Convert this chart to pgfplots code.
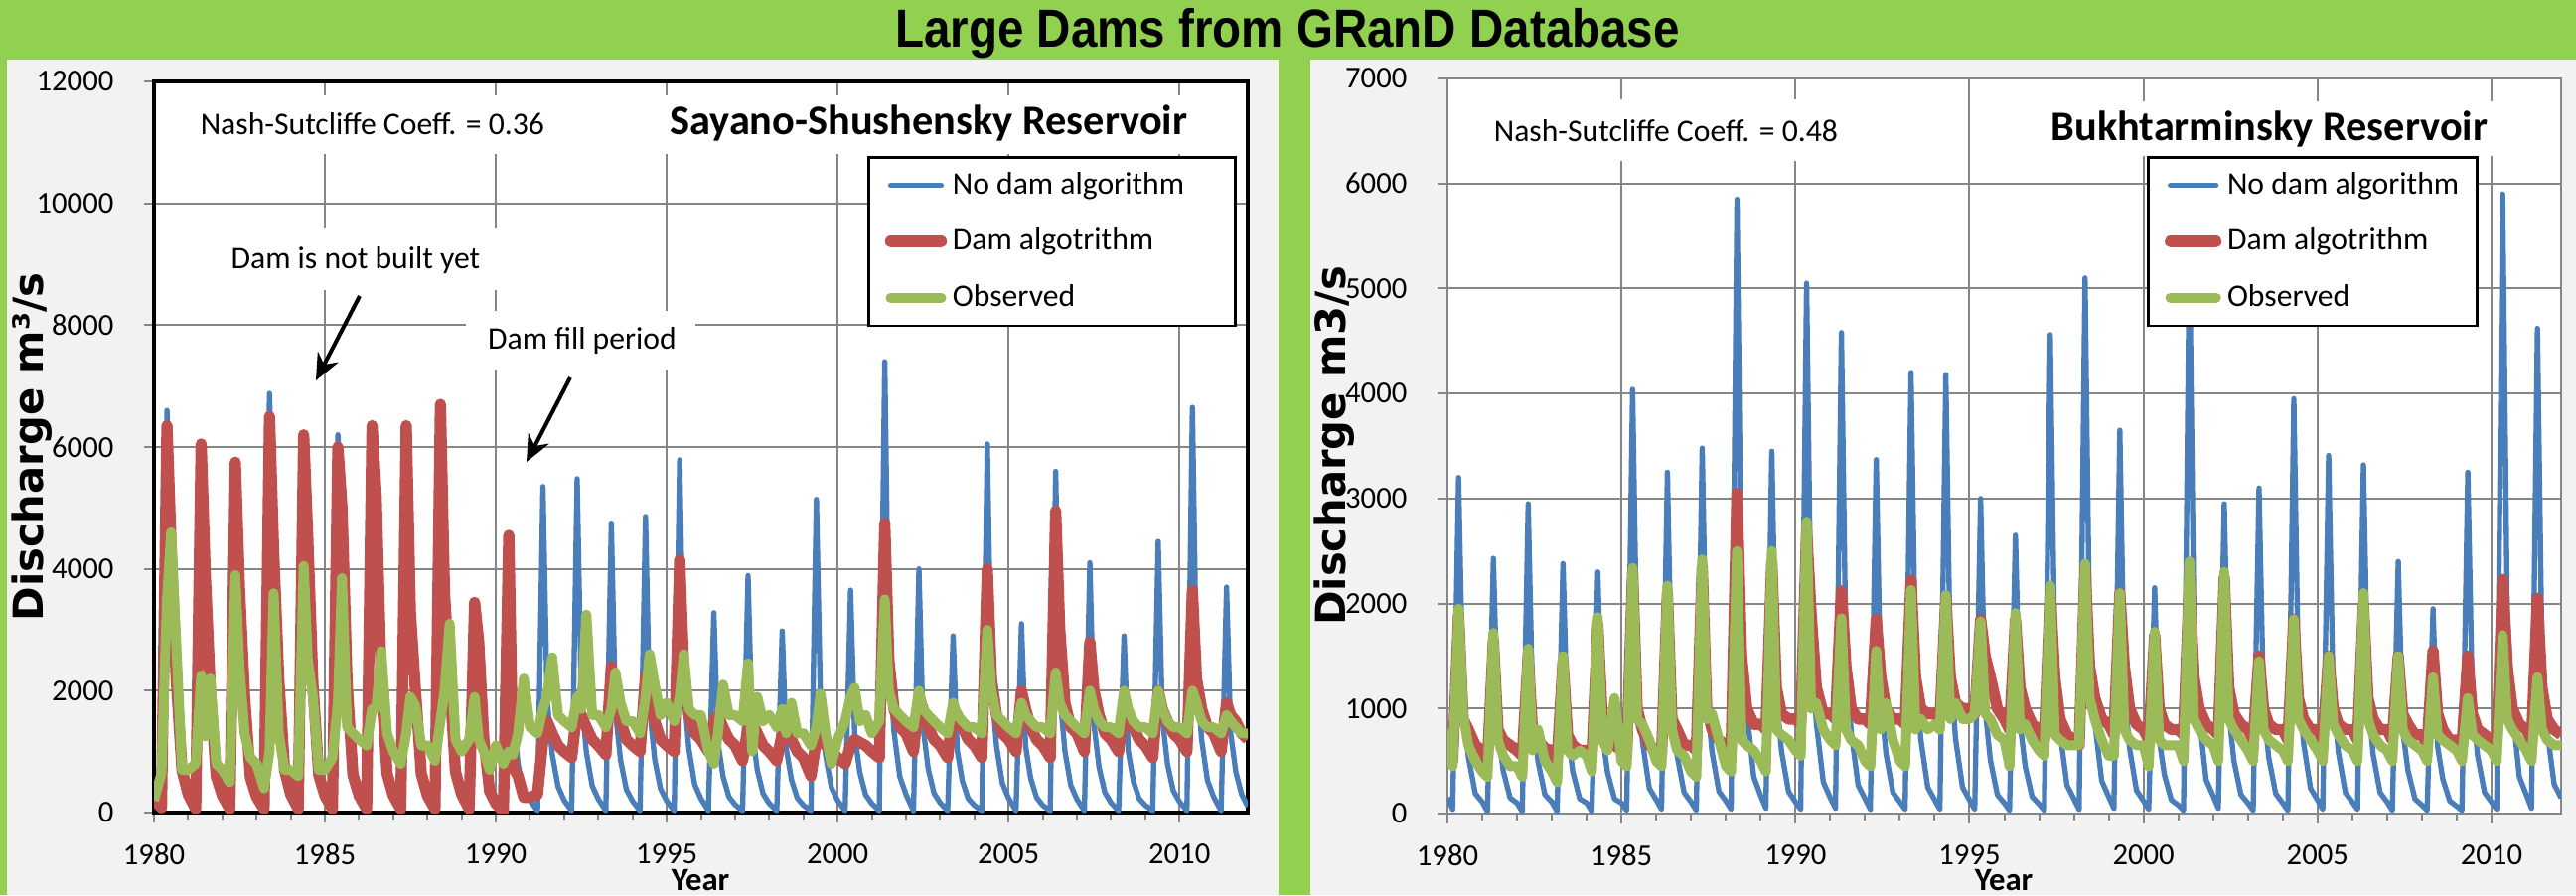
\documentclass[border=0pt]{standalone}
\usepackage{pgfplots}
\pgfplotsset{compat=1.18}
\usepackage{pgfplotstable}
\usepackage{fontspec}
\setmainfont{Carlito}
\newfontfamily\dejavu{DejaVu Sans}
\newfontfamily\titlefont[FakeStretch=0.88]{Liberation Sans}
\usetikzlibrary{arrows.meta}
\definecolor{bgg}{HTML}{92D050}
\definecolor{panel}{HTML}{F2F2F2}
\definecolor{gridc}{HTML}{868686}
\definecolor{cb}{HTML}{4A7EBB}
\definecolor{cr}{HTML}{C0504D}
\definecolor{cg}{HTML}{9BBB59}

\pgfplotstableread{
t b r g
1980.00 200 200 200
1980.22 80 80 650
1980.38 6600 6350 3500
1980.50 4400 4400 4600
1980.65 2200 2200 2800
1980.82 700 700 700
1981.00 300 300 700
1981.22 60 60 800
1981.38 6050 6050 2250
1981.50 3900 3900 1250
1981.65 2000 2000 2200
1981.82 600 600 800
1982.00 280 280 700
1982.22 60 60 500
1982.38 5750 5750 3900
1982.50 3700 3700 2400
1982.65 1900 1900 1300
1982.82 580 580 900
1983.00 260 260 800
1983.22 60 60 400
1983.38 6880 6500 1000
1983.50 4300 4300 3600
1983.65 2200 2200 1300
1983.82 700 700 700
1984.00 300 300 700
1984.22 60 60 600
1984.38 6200 6200 4050
1984.50 4500 4500 2500
1984.65 2100 2100 1900
1984.82 620 620 700
1985.00 280 280 700
1985.22 60 60 900
1985.38 6200 6000 1800
1985.50 5000 5000 3850
1985.65 2100 2100 1400
1985.82 620 620 1300
1986.00 280 280 1200
1986.22 60 60 1100
1986.38 6350 6350 1700
1986.50 5200 5200 1700
1986.65 2100 2100 2650
1986.82 640 640 1300
1987.00 280 280 1000
1987.22 60 60 800
1987.38 6350 6350 1300
1987.50 3300 3300 1900
1987.65 2000 2000 1750
1987.82 640 640 1100
1988.00 280 280 1100
1988.22 60 60 850
1988.38 6700 6700 1500
1988.50 3600 3600 2000
1988.65 2200 2200 3100
1988.82 670 670 1200
1989.00 300 300 1000
1989.22 60 60 1200
1989.38 3450 3450 1900
1989.50 2800 2800 1200
1989.65 1200 1200 1000
1989.82 350 350 700
1990.00 150 150 1100
1990.22 20 20 800
1990.38 4550 4550 1000
1990.50 1600 750 950
1990.65 800 600 1300
1990.82 300 250 2200
1991.00 200 250 1400
1991.22 30 300 1300
1991.38 5350 1200 1700
1991.50 1870 1500 1900
1991.65 960 1300 2550
1991.82 430 1100 1600
1992.00 200 1000 1500
1992.22 30 900 1400
1992.38 5480 1700 1900
1992.50 1920 1600 1700
1992.65 990 1400 3250
1992.82 440 1200 1600
1993.00 220 1100 1600
1993.22 30 950 1400
1993.38 4750 2400 1700
1993.50 1660 1900 2300
1993.65 860 1500 1800
1993.82 380 1200 1500
1994.00 190 1100 1500
1994.22 30 1000 1300
1994.38 4860 2250 1900
1994.50 1700 1900 2600
1994.65 870 1500 2100
1994.82 390 1200 1600
1995.00 190 1100 1800
1995.22 30 1000 1500
1995.38 5790 4150 1900
1995.50 2030 2300 2600
1995.65 1040 1600 1700
1995.82 460 1300 1600
1996.00 230 1200 1600
1996.22 30 1000 1000
1996.38 3280 1500 800
1996.50 1150 1600 1300
1996.65 590 1400 2100
1996.82 260 1200 1600
1997.00 130 1100 1600
1997.22 30 850 1500
1997.38 3890 1400 2450
1997.50 1360 1500 1000
1997.65 700 1300 1900
1997.82 310 1100 1500
1998.00 150 1000 1600
1998.22 30 850 1400
1998.38 2980 1300 1700
1998.50 1040 1500 1300
1998.65 540 1200 1800
1998.82 240 1000 1300
1999.00 120 900 1300
1999.22 30 600 1100
1999.38 5140 1200 1400
1999.50 1800 1300 1950
1999.65 930 1100 1300
1999.82 410 1000 800
2000.00 200 900 1200
2000.22 30 800 1500
2000.38 3650 1100 1900
2000.50 1280 1200 2050
2000.65 660 1150 1500
2000.82 290 1100 1600
2001.00 150 1000 1300
2001.22 30 900 1500
2001.38 7400 4750 3500
2001.50 2590 2500 2000
2001.65 1330 1700 1700
2001.82 590 1400 1600
2002.00 300 1300 1500
2002.22 30 1000 1400
2002.38 4000 1900 2000
2002.50 1400 1700 1700
2002.65 720 1400 1600
2002.82 320 1200 1500
2003.00 160 1100 1400
2003.22 30 900 1300
2003.38 2900 1700 1800
2003.50 1020 1600 1600
2003.65 520 1400 1500
2003.82 230 1200 1400
2004.00 120 1100 1400
2004.22 30 900 1300
2004.38 6050 4000 3000
2004.50 2120 2200 2000
2004.65 1090 1600 1600
2004.82 480 1300 1500
2005.00 240 1200 1400
2005.22 30 1000 1300
2005.38 3100 2000 1800
2005.50 1090 1700 1600
2005.65 560 1400 1500
2005.82 250 1200 1400
2006.00 120 1100 1400
2006.22 30 900 1300
2006.38 5600 4950 2300
2006.50 1960 3000 1800
2006.65 1010 1800 1600
2006.82 450 1400 1500
2007.00 220 1300 1400
2007.22 30 1000 1300
2007.38 4100 2800 2000
2007.50 1440 2000 1700
2007.65 740 1600 1500
2007.82 330 1300 1400
2008.00 160 1200 1400
2008.22 30 1000 1300
2008.38 2900 1700 2000
2008.50 1020 1600 1700
2008.65 520 1400 1500
2008.82 230 1200 1400
2009.00 120 1100 1400
2009.22 30 900 1300
2009.38 4450 2000 2000
2009.50 1560 1700 1700
2009.65 800 1500 1500
2009.82 360 1300 1400
2010.00 180 1200 1400
2010.22 30 1000 1300
2010.38 6650 3650 2000
2010.50 2330 2200 1800
2010.65 1200 1700 1500
2010.82 530 1400 1400
2011.00 260 1300 1400
2011.22 30 1000 1300
2011.38 3700 1800 1600
2011.50 1300 1600 1500
2011.65 670 1500 1400
2011.82 300 1300 1300
2012.00 100 1200 1300
}\leftdata

\pgfplotstableread{
t b r g
1980.00 150 550 800
1980.15 40 500 450
1980.32 3200 1900 1950
1980.45 1060 900 950
1980.60 540 800 650
1980.80 190 650 500
1981.00 110 600 400
1981.15 20 500 350
1981.32 2430 1650 1720
1981.45 800 800 700
1981.60 410 700 550
1981.80 150 650 450
1982.00 100 600 450
1982.15 20 550 350
1982.32 2950 1500 1570
1982.45 970 750 600
1982.60 500 700 800
1982.80 180 620 500
1983.00 110 600 400
1983.15 20 500 300
1983.32 2380 1450 1500
1983.45 790 750 600
1983.60 400 650 550
1983.80 140 600 600
1984.00 100 600 550
1984.15 20 550 400
1984.32 2300 1800 1870
1984.45 760 900 700
1984.60 390 800 600
1984.80 140 650 1100
1985.00 100 600 500
1985.15 30 550 450
1985.32 4040 2300 2340
1985.45 1330 1000 900
1985.60 690 800 850
1985.80 240 650 700
1986.00 130 600 500
1986.15 40 550 450
1986.32 3250 2100 2170
1986.45 1070 900 800
1986.60 550 800 600
1986.80 200 650 550
1987.00 110 650 400
1987.15 30 600 350
1987.32 3480 2350 2420
1987.45 1150 1000 900
1987.60 590 800 950
1987.80 210 700 700
1988.00 120 650 450
1988.15 40 600 400
1988.32 5850 3050 2500
1988.45 1930 1500 700
1988.60 990 1000 650
1988.80 350 850 600
1989.00 170 850 500
1989.15 50 800 400
1989.32 3450 2400 2500
1989.45 1140 1200 800
1989.60 590 950 750
1989.80 210 900 700
1990.00 110 900 600
1990.15 40 850 550
1990.32 5050 2700 2780
1990.45 1670 1900 1000
1990.60 860 1200 1050
1990.80 300 950 800
1991.00 150 950 700
1991.15 50 900 650
1991.32 4580 2120 1860
1991.45 1510 1400 800
1991.60 780 1000 700
1991.80 270 900 650
1992.00 140 900 500
1992.15 40 850 450
1992.32 3370 1850 1550
1992.45 1110 1300 800
1992.60 570 1000 1050
1992.80 200 900 700
1993.00 110 900 500
1993.15 40 850 450
1993.32 4200 2220 2130
1993.45 1390 1300 800
1993.60 710 1000 900
1993.80 250 950 800
1994.00 130 950 850
1994.15 40 900 800
1994.32 4180 2050 2080
1994.45 1380 1300 900
1994.60 710 1050 1050
1994.80 250 1000 900
1995.00 130 1000 900
1995.15 40 950 950
1995.32 3000 1850 1830
1995.45 990 1500 950
1995.60 510 1300 900
1995.80 180 1000 750
1996.00 100 900 700
1996.15 30 800 450
1996.32 2650 1850 1910
1996.45 870 1200 800
1996.60 450 1000 850
1996.80 160 850 700
1997.00 90 800 600
1997.15 30 700 550
1997.32 4560 2100 2170
1997.45 1500 1300 750
1997.60 780 900 700
1997.80 270 750 650
1998.00 140 700 650
1998.15 40 650 650
1998.32 5100 2350 2380
1998.45 1680 1400 1100
1998.60 870 1100 900
1998.80 310 900 700
1999.00 160 850 550
1999.15 50 750 550
1999.32 3650 2100 2100
1999.45 1200 1400 800
1999.60 620 1000 700
1999.80 220 850 650
2000.00 120 800 650
2000.15 40 700 450
2000.32 2150 1700 1730
2000.45 710 1000 700
2000.60 370 850 650
2000.80 130 800 650
2001.00 80 800 650
2001.15 30 750 500
2001.32 5400 2230 2400
2001.45 1780 1300 900
2001.60 920 1000 800
2001.80 320 850 700
2002.00 170 800 650
2002.15 50 750 500
2002.32 2950 2250 2300
2002.45 970 1200 900
2002.60 500 950 800
2002.80 180 850 700
2003.00 100 800 600
2003.15 30 700 500
2003.32 3100 1500 1450
2003.45 1020 1000 800
2003.60 530 850 700
2003.80 190 800 650
2004.00 100 800 600
2004.15 30 700 500
2004.32 3950 1850 1850
2004.45 1300 1100 900
2004.60 670 900 800
2004.80 240 800 700
2005.00 130 800 600
2005.15 40 700 500
2005.32 3410 1500 1500
2005.45 1130 1000 850
2005.60 580 850 750
2005.80 200 800 650
2006.00 110 800 600
2006.15 40 700 500
2006.32 3320 2000 2100
2006.45 1100 1100 900
2006.60 560 900 750
2006.80 200 800 650
2007.00 110 800 600
2007.15 30 700 500
2007.32 2400 1500 1500
2007.45 790 950 800
2007.60 410 850 700
2007.80 140 750 650
2008.00 80 750 600
2008.15 30 650 500
2008.32 1950 1550 1300
2008.45 640 950 750
2008.60 330 800 700
2008.80 120 700 650
2009.00 70 700 600
2009.15 30 650 500
2009.32 3250 1500 1100
2009.45 1070 950 750
2009.60 550 800 700
2009.80 200 750 650
2010.00 110 700 600
2010.15 40 650 500
2010.32 5900 2230 1700
2010.45 1950 1400 900
2010.60 1000 1000 800
2010.80 350 850 700
2011.00 180 800 600
2011.15 50 700 500
2011.32 4620 2050 1300
2011.45 1520 1200 800
2011.60 790 900 700
2011.80 280 800 650
2012.00 150 750 650
}\rightdata

\pgfplotsset{
 damaxis/.style={
  anchor=south west, scale only axis,
  xmin=1980, xmax=2012, ymin=0,
  xtick={1980,1985,...,2010}, minor x tick num=4,
  scaled ticks=false,
  tick pos=left, tick align=outside,
  major tick length=3pt, minor tick length=2pt,
  grid=major, major grid style={draw=gridc, line width=0.6pt},
  tick style={draw=gridc, line width=0.6pt},
  tick label style={font=\fontsize{9.2pt}{10pt}\selectfont},
  xticklabel style={anchor=center, inner sep=0pt, yshift=-9.6pt},
  yticklabel style={anchor=east, inner sep=0pt, xshift=-9pt},
  /pgf/number format/1000 sep={},
  /pgf/number format/assume math mode=true,
  axis background/.style={fill=white},
  legend cell align=left,
  legend style={anchor=north west, draw=black, line width=0.8pt, fill=white,
     inner xsep=5pt, inner ysep=0pt, row sep=0pt, column sep=1.2pt,
     font=\fontsize{9.5pt}{11pt}\selectfont,
     nodes={inner sep=0.5pt, minimum height=16.95pt}},
 },
 bl/.style={color=cb, line width=1.6pt, line join=round, mark=none},
 rl/.style={color=cr, line width=3.4pt, line join=round, mark=none},
 gl/.style={color=cg, line width=3pt, line join=round, mark=none},
}

\begin{document}
\begin{tikzpicture}
\path[use as bounding box] (0pt,0pt) rectangle (777.9pt,-270.3pt);
\begin{scope}[x=0.3pt,y=-0.3pt]
\fill[bgg] (0,0) rectangle (2593,901);
\fill[panel] (7,60) rectangle (1287,901);
\fill[panel] (1319,60) rectangle (2593,901);
\end{scope}

\begin{axis}[damaxis, at={(46.5pt,-245.4pt)}, width=330.3pt, height=220.8pt,
  ymax=12000, ytick={0,2000,...,12000},
  axis line style={black, line width=1.05pt},
  legend image code/.code={\draw[#1, line cap=round] (1.5pt,0pt) -- (16.8pt,0pt);},
  legend style={at={(0.652,0.898)}}]
\addplot[bl] table[x=t,y=b]{\leftdata};
\addplot[rl] table[x=t,y=r]{\leftdata};
\addplot[gl] table[x=t,y=g]{\leftdata};
\legend{No dam algorithm\hspace*{10pt},Dam algotrithm,Observed}
\end{axis}

\begin{axis}[damaxis, at={(437.1pt,-245.7pt)}, width=336.3pt, height=222pt,
  ymax=7000, ytick={0,1000,...,7000},
  axis line style={gridc, line width=0.6pt},
  legend image code/.code={\draw[#1, line cap=round] (1.5pt,0pt) -- (15.3pt,0pt);},
  legend style={at={(0.628,0.8946)}}]
\addplot[bl] table[x=t,y=b]{\rightdata};
\addplot[rl] table[x=t,y=r]{\rightdata};
\addplot[gl] table[x=t,y=g]{\rightdata};
\legend{No dam algorithm,Dam algotrithm,Observed}
\end{axis}

\begin{scope}[x=0.3pt,y=-0.3pt]
\node[anchor=base, font=\titlefont\bfseries\fontsize{16.2pt}{18pt}\selectfont] at (1296,47) {Large Dams from GRanD Database};
% left annotations
\fill[white] (175,96) rectangle (555,155);
\node[anchor=west, font=\fontsize{9.5pt}{11pt}\selectfont] at (190,125) {Nash-Sutcliffe Coeff. = 0.36};
\fill[white] (670,96) rectangle (1225,155);
\node[anchor=east, font=\bfseries\fontsize{12.7pt}{14pt}\selectfont] at (1207,124) {Sayano-Shushensky Reservoir};
\fill[white] (215,230) rectangle (505,292);
\node[font=\fontsize{9.5pt}{11pt}\selectfont] at (358,262) {Dam is not built yet};
\fill[white] (469,313) rectangle (700,372);
\node[font=\fontsize{9.5pt}{11pt}\selectfont] at (586,343) {Dam fill period};
\draw[line width=1.2pt, -{Stealth[length=8pt,width=7pt]}] (362,298) -- (318,383);
\draw[line width=1.2pt, -{Stealth[length=8pt,width=7pt]}] (574,380) -- (530,465);
% right annotations
\fill[white] (1475,100) rectangle (1860,162);
\node[anchor=west, font=\fontsize{9.5pt}{11pt}\selectfont] at (1492,132) {Nash-Sutcliffe Coeff. = 0.48};
\fill[white] (2060,102) rectangle (2530,157);
\node[anchor=east, font=\bfseries\fontsize{12.7pt}{14pt}\selectfont] at (2516,130) {Bukhtarminsky Reservoir};
% axis titles
\node[rotate=90, font=\dejavu\bfseries\fontsize{12.5pt}{14pt}\selectfont] at (32,450) {Discharge m³/s};
\node[rotate=90, font=\dejavu\bfseries\fontsize{12.5pt}{14pt}\selectfont] at (1343,449) {Discharge m3/s};
\node[anchor=base, font=\bfseries\fontsize{9.8pt}{11pt}\selectfont] at (705,896) {Year};
\node[anchor=base, font=\bfseries\fontsize{9.8pt}{11pt}\selectfont] at (2017,896) {Year};
\end{scope}
\end{tikzpicture}
\end{document}
